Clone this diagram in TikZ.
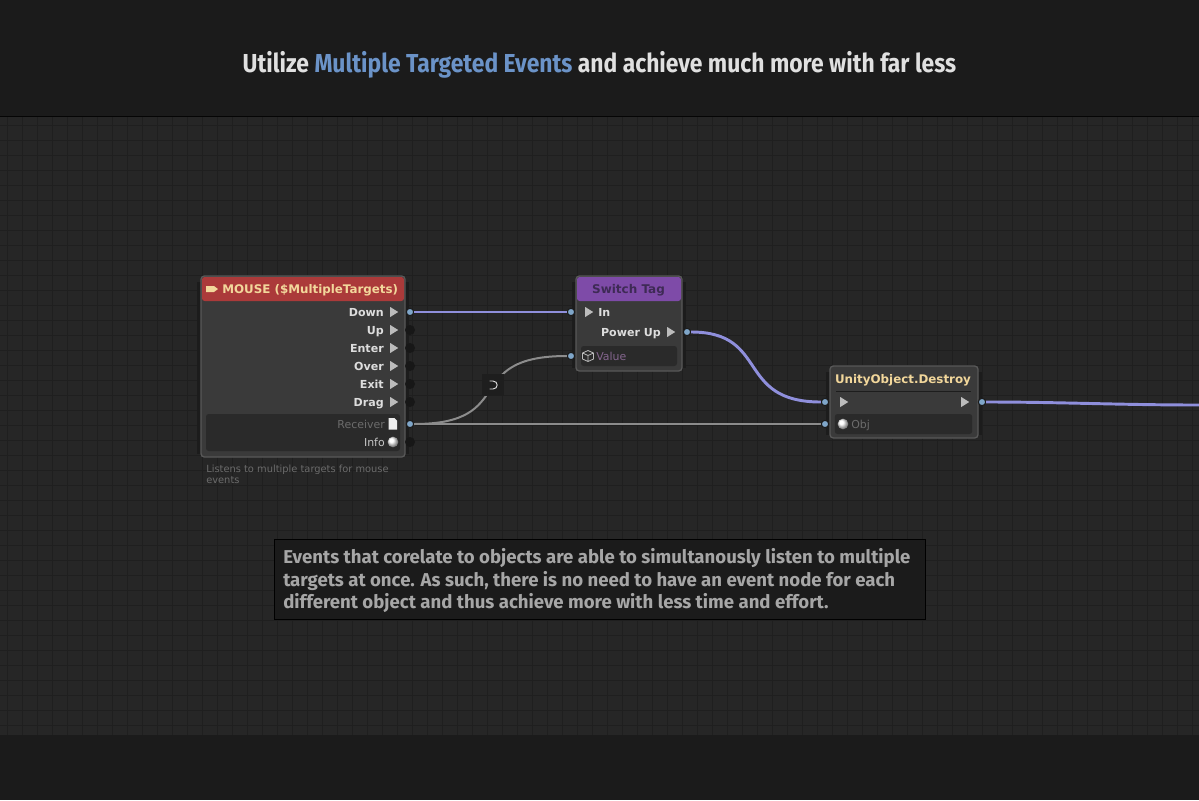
\documentclass[tikz,border=0pt]{standalone}
\usepackage{graphicx}
\usepackage{fontspec}
\setmainfont{DejaVu Sans}
\newfontfamily\titlefont{Fira Sans}
\usetikzlibrary{arrows, arrows.meta}
\usetikzlibrary{calc}
\usetikzlibrary{shapes.geometric}
\definecolor{canvasbg}{HTML}{262626}
\definecolor{bandbg}{HTML}{1B1B1B}
\definecolor{gridcol}{HTML}{1F1F1F}
\definecolor{bodycol}{HTML}{3A3A3A}
\definecolor{edgecol}{HTML}{585858}
\definecolor{wellcol}{HTML}{2A2A2A}
\definecolor{flowcol}{HTML}{8F8FDC}
\definecolor{wirecol}{HTML}{8C8C8C}
\definecolor{portblue}{HTML}{7FA6C9}
\definecolor{labelcol}{HTML}{DDDDDD}
\definecolor{headcol}{HTML}{F2D79B}
\definecolor{headred}{HTML}{AB3A3A}
\definecolor{headpurple}{HTML}{7E4BA8}
\definecolor{purpletext}{HTML}{3E2A55}
\definecolor{valuecol}{HTML}{85668F}
\definecolor{titleblue}{HTML}{6B93C8}
\tikzset{
  nodebody/.style={draw=edgecol, line width=1pt, fill=bodycol, rounded corners=2.5pt},
  sidestrip/.style={fill=black!25!canvasbg},
  well/.style={fill=wellcol, rounded corners=2pt},
  port/.style={circle, fill=black!40!canvasbg, inner sep=0pt, minimum size=7.5pt},
  liveport/.style={circle, fill=portblue, draw=black!30!canvasbg, line width=.8pt, inner sep=0pt, minimum size=5.5pt},
  flowtip/.style={isosceles triangle, isosceles triangle apex angle=64, fill=labelcol!85!black, inner sep=0pt, minimum height=6pt, minimum width=6.4pt},
  ball/.style={circle, inner sep=0pt, minimum size=8pt, ball color=white, shading=ball},
  portlabel/.style={text=labelcol, font=\bfseries\fontsize{8.3}{9}\selectfont, inner sep=0pt},
  flatlabel/.style={text=#1, font=\fontsize{8.2}{9}\selectfont, inner sep=0pt},
  flowwire/.style={draw=flowcol, line width=2.2pt},
  plainwire/.style={draw=wirecol, line width=1.5pt},
}
\begin{document}
\begin{tikzpicture}[x=0.75pt, y=-0.75pt]
      \useasboundingbox (0,0) rectangle (1199,800);
      \fill[bandbg] (0,0) rectangle (1199,800);
      \fill[canvasbg] (0,117) rectangle (1199,735);
      \begin{scope}[shift={(7,5)}]
        \draw[gridcol, line width=.6pt, step=11.25pt] (-7,112) grid (1192,730);
      \end{scope}
      \draw[black!80!bandbg, line width=1pt] (0,116.5) -- (1199,116.5);

      % title
      \node[text=white!88!black, font=\titlefont\bfseries\fontsize{19.5}{22}\selectfont, inner sep=0pt, anchor=base] (title) at (599.5,72)
        {\scalebox{.88}[1]{Utilize \textcolor{titleblue}{Multiple Targeted Events} and achieve much more with far less}};

      % side strips of the blocks
      \fill[sidestrip] (197,282) rectangle (409,454);
      \fill[sidestrip] (572,282) rectangle (686,368);
      \fill[sidestrip] (826,372) rectangle (982,435);

      % mouse event
      \node[nodebody, minimum width=153pt, minimum height=135.75pt, inner sep=0pt] (mouse) at (303,366.5) {};
      \fill[headred, rounded corners=2pt] (202,277) rectangle (404,301);
      \node[text=headcol, font=\bfseries\fontsize{8.9}{11}\selectfont, inner sep=0pt, anchor=base west] (mousehead) at (222,293.5) {MOUSE (\$MultipleTargets)};
      \fill[headcol] (206,286) -- (214,286) -- (218,289) -- (214,292) -- (206,292) -- cycle;
      \node[well, minimum width=145.5pt, minimum height=27.75pt, inner sep=0pt] (mousewell) at (303,432.5) {};

      \node[portlabel, anchor=base east] (downl) at (384,316) {Down};
      \node[portlabel, anchor=base east] (upl) at (384,334) {Up};
      \node[portlabel, anchor=base east] (enterl) at (384,352) {Enter};
      \node[portlabel, anchor=base east] (overl) at (384,370) {Over};
      \node[portlabel, anchor=base east] (exitl) at (384,388) {Exit};
      \node[portlabel, anchor=base east] (dragl) at (384,406) {Drag};
      \node[flatlabel=gray!85!black, anchor=base east] (receiverl) at (385,428) {Receiver};
      \node[flatlabel=labelcol!90!black, anchor=base east] (infol) at (385,446) {Info};
      \node[flowtip] (downt) at (393,312) {};
      \node[flowtip] (upt) at (393,330) {};
      \node[flowtip] (entert) at (393,348) {};
      \node[flowtip] (overt) at (393,366) {};
      \node[flowtip] (exitt) at (393,384) {};
      \node[flowtip] (dragt) at (393,402) {};
      \node[ball] (infob) at (393,442) {};
      \fill[white!92!black] (388.5,418) -- (394.5,418) -- (397,420.5) -- (397,429.5) -- (388.5,429.5) -- cycle;

      \node[port] (upp) at (410,330) {};
      \node[port] (enterp) at (410,348) {};
      \node[port] (overp) at (410,366) {};
      \node[port] (exitp) at (410,384) {};
      \node[port] (dragp) at (410,402) {};
      \node[port] (infop) at (410,442) {};
      \node[liveport] (downp) at (410,312) {};
      \node[liveport] (receiverp) at (410,424) {};

      \node[text=gray!85!black, font=\fontsize{7.4}{8.2}\selectfont, align=left, anchor=north west, inner sep=0pt] (mousenote) at (206,464.5)
        {Listens to multiple targets for mouse\\events};

      % switch tag
      \node[nodebody, minimum width=79.5pt, minimum height=71.25pt, inner sep=0pt] (switch) at (629,323.5) {};
      \fill[headpurple, rounded corners=2pt] (577,277) rectangle (681,301);
      \node[text=purpletext, font=\bfseries\fontsize{9}{11}\selectfont, inner sep=0pt, anchor=base] (switchhead) at (628.5,293.5) {Switch Tag};
      \node[well, minimum width=72pt, minimum height=15pt, inner sep=0pt] (switchwell) at (629,356) {};
      \node[flowtip] (int) at (588,312) {};
      \node[portlabel, anchor=base west] (inl) at (598,316) {In};
      \node[portlabel, anchor=base east] (powerl) at (661,336) {Power Up};
      \node[flowtip] (powert) at (670,332) {};
      \node[flatlabel=valuecol, anchor=base west] (valuel) at (596,360) {Value};
      \draw[labelcol!85!black, line width=.6pt, line join=round] (588,350.5) -- (593.5,353) -- (593.5,359) -- (588,361.5) -- (582.5,359) -- (582.5,353) -- cycle
        (582.5,353) -- (588,355.5) -- (593.5,353) (588,355.5) -- (588,361.5);
      \node[liveport] (inp) at (571,312) {};
      \node[liveport] (valuep) at (571,356) {};
      \node[liveport] (powerp) at (687,332) {};

      % destroy
      \node[nodebody, minimum width=111pt, minimum height=54pt, inner sep=0pt] (destroy) at (904,402) {};
      \node[text=headcol, font=\bfseries\fontsize{8.9}{11}\selectfont, inner sep=0pt, anchor=base] (destroyhead) at (903,383.5) {UnityObject.Destroy};
      \draw[black!50!bodycol, line width=.7pt] (836,391) -- (971,391);
      \node[well, minimum width=103pt, minimum height=15pt, inner sep=0pt] (destroywell) at (903.5,424) {};
      \node[flowtip] (flowint) at (843,402) {};
      \node[flowtip] (flowoutt) at (964,402) {};
      \node[ball] (objb) at (843,424) {};
      \node[flatlabel=gray!85!black, anchor=base west] (objl) at (851,428) {Obj};
      \node[liveport] (flowinp) at (825,402) {};
      \node[liveport] (objp) at (825,424) {};
      \node[liveport] (flowoutp) at (982,402) {};
      \coordinate (offpage) at (1199,405);

      % connectors
      \draw[flowwire] (downp) -- (inp);
      \draw[flowwire] (powerp) .. controls (770,332) and (735,402) .. (flowinp);
      \draw[flowwire] (flowoutp) .. controls (1060,402) and (1120,405) .. (offpage);
      \draw[plainwire] (receiverp) -- (objp);
      \draw[plainwire] (receiverp) .. controls (520,424) and (460,356) .. (valuep);

      % reroute
      \node[fill=black!22!canvasbg, minimum size=16.5pt, inner sep=0pt] (reroute) at (493,385) {};
      \draw[labelcol, line width=.7pt] (489.5,381) -- (493,381) .. controls (498.5,381) and (498.5,389) .. (493,389) -- (489.5,389);

      % note
      \node[draw=black, line width=.6pt, fill=bandbg, minimum width=488.25pt, minimum height=60pt, inner sep=0pt] (note) at (599.5,579) {};
      \node[text=gray!70!white, inner sep=0pt, align=left, anchor=north west, font=\titlefont\bfseries\fontsize{13.95}{16.9}\selectfont] (notetext) at (283,548.5)
        {Events that corelate to objects are able to simultanously listen to multiple\\
         targets at once. As such, there is no need to have an event node for each\\
         different object and thus achieve more with less time and effort.};
    \end{tikzpicture}
\end{document}
